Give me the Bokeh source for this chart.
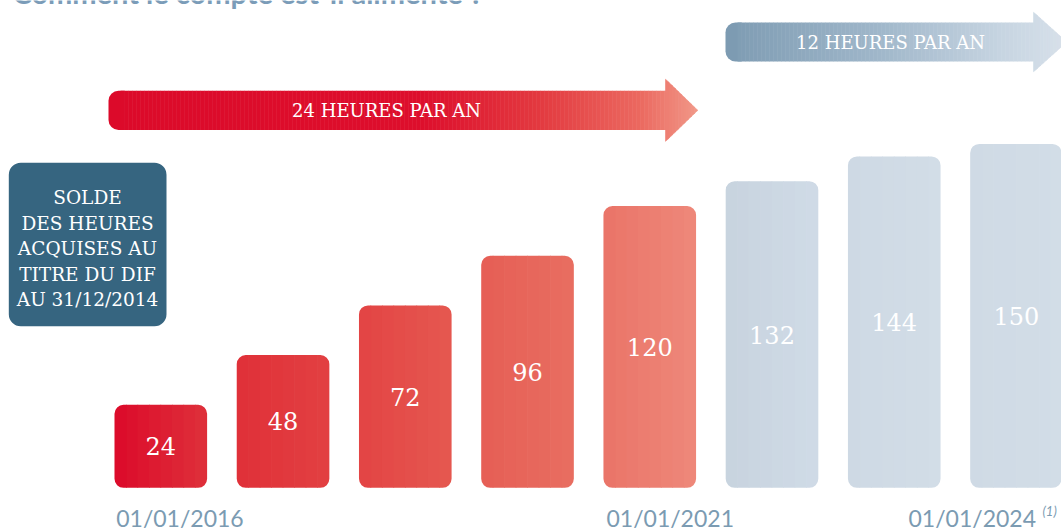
from bokeh.plotting import figure
from bokeh.models import Range1d, ColumnDataSource
from bokeh.embed import file_html
from bokeh.resources import INLINE
from bokeh.core.properties import value

# ---------------- data ----------------
hours = [24, 48, 72, 96, 120, 132, 144, 150]
bar_index = list(range(len(hours)))
date_labels = ["01/01/2016", "01/01/2021", "01/01/2024"]
date_bar_index = [0, 4, 7]
note_label = "(1)"
title_text = "Comment le compte est-il alimenté ?"
box_lines = ["SOLDE", "DES HEURES", "ACQUISES AU", "TITRE DU DIF", "AU 31/12/2014"]
arrow_labels = ["24 HEURES PAR AN", "12 HEURES PAR AN"]

# ---------------- styles ----------------
W, H = 1061, 531
PX_PER_IDX = 122.24
IDX0_PX = 160.3
PX_PER_UNIT = 2.07
BASE = -16.1          # value at bar bottoms
BASE_PX = 487.3
BAR_W = 0.752
N_STRIPS = 8
RADIUS = 9

bar_left_rgb = [(220, 10, 42), (224, 48, 56), (227, 68, 68), (230, 94, 85),
                (234, 116, 104), (199, 211, 223), (206, 217, 228), (207, 218, 229)]
bar_right_rgb = [(222, 48, 58), (226, 64, 66), (229, 88, 80), (232, 110, 97),
                 (238, 136, 122), (208, 219, 230), (210, 221, 231), (210, 221, 231)]
red_stops = [(108, (220, 10, 42)), (420, (221, 14, 44)), (540, (227, 58, 64)),
             (640, (235, 105, 96)), (697, (241, 152, 136))]
blue_stops = [(725, (125, 155, 178)), (880, (160, 183, 202)),
              (1000, (198, 212, 225)), (1066, (216, 225, 234))]
date_offsets_px = [-44.6, -43.3, -108.0]
label_color = "#7b9bb2"
box_color = "#366580"
title_color = "#7b9cb8"


def hexc(rgb):
    return "#%02x%02x%02x" % tuple(int(round(c)) for c in rgb)


def mix(a, b, t):
    return tuple(a[j] + (b[j] - a[j]) * t for j in range(3))


def grad(stops, x):
    if x <= stops[0][0]:
        return stops[0][1]
    for (x0, c0), (x1, c1) in zip(stops[:-1], stops[1:]):
        if x <= x1:
            return mix(c0, c1, (x - x0) / (x1 - x0))
    return stops[-1][1]


def fy(P):  # pixel row -> px-range y
    return H - P


x_start = -IDX0_PX / PX_PER_IDX
x_end = (W - IDX0_PX) / PX_PER_IDX
y_start = BASE + (BASE_PX - H) / PX_PER_UNIT
y_end = BASE + BASE_PX / PX_PER_UNIT

p = figure(width=W, height=H, x_range=Range1d(x_start, x_end),
           y_range=Range1d(y_start, y_end), output_backend="svg",
           toolbar_location=None, min_border=0, x_axis_location=None,
           y_axis_location=None,
           styles={"position": "absolute", "left": "0px", "top": "0px"})
p.extra_x_ranges = {"px": Range1d(0, W)}
p.extra_y_ranges = {"px": Range1d(0, H)}
p.grid.visible = False
p.outline_line_color = None
p.background_fill_color = "white"
p.border_fill_color = "white"

# ---------------- bars (gradient strips) ----------------
sw = BAR_W / N_STRIPS
groups = {"left": ([], [], []), "mid": ([], [], []), "right": ([], [], [])}
for i, v in zip(bar_index, hours):
    for k in range(N_STRIPS):
        xc = i - BAR_W / 2 + (k + 0.5) * sw
        col = hexc(mix(bar_left_rgb[i], bar_right_rgb[i], (k + 0.5) / N_STRIPS))
        g = "left" if k == 0 else ("right" if k == N_STRIPS - 1 else "mid")
        groups[g][0].append(xc)
        groups[g][1].append(v)
        groups[g][2].append(col)
radii = {"left": (RADIUS, 0, 0, RADIUS), "mid": 0, "right": (0, RADIUS, RADIUS, 0)}
for g in ["mid", "left", "right"]:
    xs, tops, cols = groups[g]
    p.vbar(x=xs, top=tops, bottom=BASE, width=sw * 1.06, fill_color=cols,
           line_color=None, border_radius=radii[g])

p.text(x=bar_index, y=[(BASE + v) / 2 for v in hours], text=[str(v) for v in hours],
       text_align="center", text_baseline="middle", text_color="white",
       text_font=value("DejaVu Serif"), text_font_size="24px")

# ---------------- arrows ----------------
def draw_arrow(x0, x1, xtip, yc, half_body, half_head, stops, step=4):
    p.quad(left=x0, right=x0 + 16, top=fy(yc - half_body), bottom=fy(yc + half_body),
           fill_color=hexc(grad(stops, x0)), line_color=None,
           border_radius=(10, 0, 0, 10), x_range_name="px", y_range_name="px")
    lefts, rights, cols = [], [], []
    x = x0 + 12
    while x < x1:
        xe = min(x + step, x1 + 0.5)
        lefts.append(x)
        rights.append(xe + 0.4)
        cols.append(hexc(grad(stops, (x + xe) / 2)))
        x = xe
    p.quad(left=lefts, right=rights, top=fy(yc - half_body), bottom=fy(yc + half_body),
           fill_color=cols, line_color=None, x_range_name="px", y_range_name="px")
    xs, ys, hc = [], [], []
    n = 10
    for k in range(n):
        a = x1 + (xtip - x1) * k / n
        b = x1 + (xtip - x1) * (k + 1) / n
        ha = half_head * (xtip - a) / (xtip - x1)
        hb = half_head * (xtip - b) / (xtip - x1)
        xs.append([a, b + 0.4, b + 0.4, a])
        ys.append([fy(yc - ha), fy(yc - hb), fy(yc + hb), fy(yc + ha)])
        hc.append(hexc(grad(stops, (a + b) / 2)))
    p.patches(xs=xs, ys=ys, fill_color=hc, line_color=hc, line_width=0.6,
              x_range_name="px", y_range_name="px")


draw_arrow(108, 665, 697, 109.8, 19.6, 31.0, red_stops)
draw_arrow(725, 1033, 1066, 41.5, 19.4, 29.7, blue_stops)

p.text(x=[386, 890], y=[fy(110), fy(42)], text=arrow_labels, text_align="center",
       text_baseline="middle", text_color="white", text_font=value("DejaVu Serif"),
       text_font_size="18px", x_range_name="px", y_range_name="px")

# ---------------- left box ----------------
p.quad(left=8.3, right=166, top=fy(162.3), bottom=fy(325.7), fill_color=box_color,
       line_color=None, border_radius=12, x_range_name="px", y_range_name="px")
p.text(x=[87] * len(box_lines), y=[fy(y) for y in [196.7, 222.7, 248.3, 274, 299.3]],
       text=box_lines, text_align="center", text_baseline="middle",
       text_color="white", text_font=value("DejaVu Serif"), text_font_size="18.5px",
       x_range_name="px", y_range_name="px")

# ---------------- date labels ----------------
src = ColumnDataSource(dict(x=date_bar_index, y=[fy(517)] * len(date_labels),
                            t=date_labels, dx=date_offsets_px))
p.text(x="x", y="y", text="t", x_offset="dx", source=src, text_align="left",
       text_baseline="middle", text_color=label_color, text_font=value("Lato"),
       text_font_size="23px", y_range_name="px")
p.text(x=[date_bar_index[-1]], y=[fy(510)], text=[note_label], x_offset=26,
       text_align="left", text_baseline="middle", text_color=label_color,
       text_font=value("Lato"), text_font_style="italic", text_font_size="13px",
       y_range_name="px")

# ---------------- cut-off title ----------------
p.text(x=[12], y=[fy(-8.5)], text=[title_text], text_align="left",
       text_baseline="middle", text_color=title_color, text_font=value("Lato"),
       text_font_style="bold", text_font_size="29px", x_range_name="px",
       y_range_name="px")

open("out.html", "w").write(file_html(p, INLINE))
